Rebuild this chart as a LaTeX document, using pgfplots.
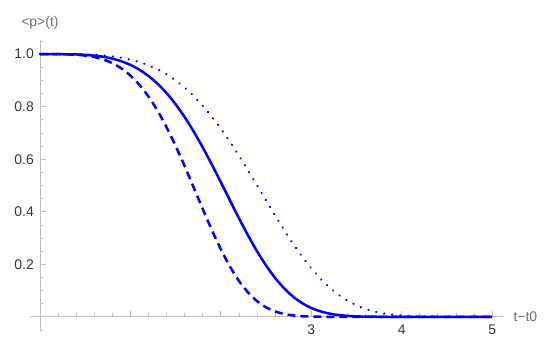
\documentclass[border=0pt]{standalone}
\usepackage{fontspec}
\setmainfont{Liberation Sans}
\usepackage{pgfplots}
\pgfplotsset{compat=1.18}
\definecolor{axgray}{RGB}{190,190,190}
\definecolor{ticktext}{RGB}{55,55,55}
\definecolor{labeltext}{RGB}{110,110,110}
\definecolor{mblue}{RGB}{0,0,255}

\begin{document}
\begin{tikzpicture}[x=1pt,y=1pt]
\useasboundingbox (0,0) rectangle (550,344);
\begin{axis}[
  at={(30pt,14pt)}, anchor=south west,
  scale only axis, width=473pt, height=290pt,
  xmin=-0.11, xmax=5.12, ymin=-0.05, ymax=1.054,
  axis lines=middle,
  axis line style={axgray, line width=0.8pt, -},
  tick style={axgray, line width=0.8pt},
  tick align=inside,
  major tick length=6pt, minor tick length=3.5pt,
  xtick={1,2,3,4,5}, xticklabels={,,3,4,5},
  minor xtick={0.2,0.4,0.6,0.8,1.2,1.4,1.6,1.8,2.2,2.4,2.6,2.8,3.2,3.4,3.6,3.8,4.2,4.4,4.6,4.8},
  ytick={0.2,0.4,0.6,0.8,1.0},
  minor ytick={-0.05,0.05,0.1,0.15,0.25,0.3,0.35,0.45,0.5,0.55,0.65,0.7,0.75,0.85,0.9,0.95,1.05},
  ticklabel style={ticktext, font=\fontsize{14}{16}\selectfont},
  xticklabel style={yshift=-4.5pt},
  yticklabel style={xshift=-2.5pt, /pgf/number format/.cd, fixed, fixed zerofill, precision=1},
  /pgf/number format/assume math mode=true,
  xlabel={t−t0}, ylabel={<p>(t)},
  every axis x label/.style={at={(axis cs:5.12,0)}, anchor=west, xshift=7pt,
    labeltext, font=\fontsize{14}{16}\selectfont},
  every axis y label/.style={at={(axis cs:0,1.054)}, anchor=south, yshift=7pt,
    labeltext, font=\fontsize{14}{16}\selectfont},
]
% dashed
\addplot[mblue, line width=2.5pt, dash pattern=on 8pt off 5pt, smooth, no markers] coordinates {
(0,1) (0.2,0.9999) (0.4,0.9978) (0.5,0.9947) (0.6,0.9891) (0.7,0.9798) (0.8,0.9659)
(0.9,0.9459) (1.0,0.9187) (1.1,0.8832) (1.2,0.8387) (1.3,0.7849) (1.4,0.7219)
(1.5,0.6509) (1.6,0.5736) (1.7,0.4924) (1.8,0.4105) (1.9,0.3311) (2.0,0.2574)
(2.1,0.1921) (2.2,0.1371) (2.3,0.0932) (2.4,0.0600) (2.5,0.0364) (2.6,0.0207)
(2.7,0.0110) (2.8,0.0054) (2.9,0.0025) (3.0,0.0010) (3.2,0.0001) (3.4,0) (4.0,0) (5.0,0)
};
% solid
\addplot[mblue, line width=2.5pt, smooth, no markers] coordinates {
(0,1) (0.2,0.9999) (0.4,0.9989) (0.5,0.9974) (0.6,0.9946) (0.7,0.9900) (0.8,0.9830)
(0.9,0.9730) (1.0,0.9591) (1.1,0.9407) (1.2,0.9170) (1.3,0.8875) (1.4,0.8517)
(1.5,0.8094) (1.6,0.7605) (1.7,0.7055) (1.8,0.6450) (1.9,0.5802) (2.0,0.5126)
(2.1,0.4438) (2.2,0.3759) (2.3,0.3107) (2.4,0.2501) (2.5,0.1956) (2.6,0.1483)
(2.7,0.1086) (2.8,0.0767) (2.9,0.0521) (3.0,0.0339) (3.1,0.0211) (3.2,0.0125)
(3.3,0.0071) (3.4,0.0038) (3.5,0.0019) (3.6,0.0009) (3.8,0.0002) (4.0,0) (4.5,0) (5.0,0)
};
% dotted
\addplot[mblue, line width=2.4pt, line cap=round, dash pattern=on 0.1pt off 8pt, smooth, no markers] coordinates {
(0,1) (0.2,1.0) (0.4,0.9995) (0.6,0.9973) (0.7,0.9950) (0.8,0.9915) (0.9,0.9864)
(1.0,0.9794) (1.1,0.9700) (1.2,0.9577) (1.3,0.9422) (1.4,0.9231) (1.5,0.8999)
(1.6,0.8724) (1.7,0.8403) (1.8,0.8036) (1.9,0.7622) (2.0,0.7165) (2.1,0.6669)
(2.2,0.6138) (2.3,0.5582) (2.4,0.5010) (2.5,0.4432) (2.6,0.3860) (2.7,0.3305)
(2.8,0.2779) (2.9,0.2291) (3.0,0.1850) (3.1,0.1460) (3.2,0.1125) (3.3,0.0845)
(3.4,0.0618) (3.5,0.0439) (3.6,0.0302) (3.7,0.0201) (3.8,0.0130) (3.9,0.0081)
(4.0,0.0048) (4.1,0.0028) (4.2,0.0015) (4.4,0.0004) (4.6,0) (5.0,0)
};
\end{axis}
\end{tikzpicture}
\end{document}
